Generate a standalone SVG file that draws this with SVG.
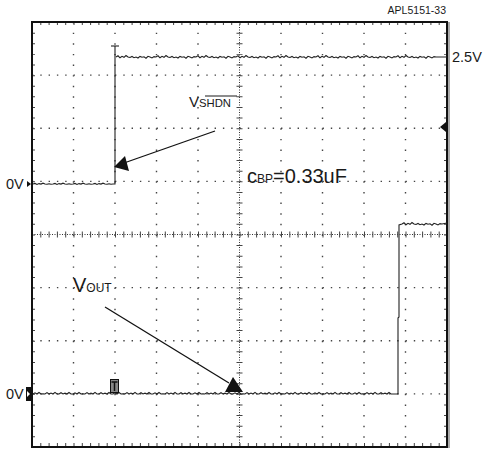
<svg xmlns="http://www.w3.org/2000/svg" width="484" height="454" viewBox="0 0 484 454">
<style>
.t{font-family:"Liberation Sans",Arial,sans-serif;fill:#1a1a1a}
.gv{stroke:#444;stroke-width:1.4;stroke-dasharray:1.4 9.225}
.gh{stroke:#444;stroke-width:1.4;stroke-dasharray:1.4 6.9}
.tr{fill:none;stroke:#222;stroke-width:1.1}
.ar{stroke:#111;stroke-width:1.3}
</style>
<rect width="484" height="454" fill="#fff"/>
<g id="grid">
<g class="gv">
<line x1="73.5" y1="22" x2="73.5" y2="447"/><line x1="115" y1="22" x2="115" y2="447"/>
<line x1="156.5" y1="22" x2="156.5" y2="447"/><line x1="198" y1="22" x2="198" y2="447"/>
<line x1="281" y1="22" x2="281" y2="447"/><line x1="322.5" y1="22" x2="322.5" y2="447"/>
<line x1="364" y1="22" x2="364" y2="447"/><line x1="405.5" y1="22" x2="405.5" y2="447"/>
</g>
<g class="gh">
<line x1="32" y1="75.1" x2="447" y2="75.1"/><line x1="32" y1="128.3" x2="447" y2="128.3"/>
<line x1="32" y1="181.4" x2="447" y2="181.4"/><line x1="32" y1="287.6" x2="447" y2="287.6"/>
<line x1="32" y1="340.8" x2="447" y2="340.8"/><line x1="32" y1="393.9" x2="447" y2="393.9"/>
</g>
<line x1="239.5" y1="22" x2="239.5" y2="447" stroke="#333" stroke-dasharray="1 1.5"/>
<line x1="32" y1="234.5" x2="447" y2="234.5" stroke="#333" stroke-dasharray="1 1.5"/>
<line x1="239.5" y1="22" x2="239.5" y2="447" stroke="#444" stroke-width="6" stroke-dasharray="1 9.625"/>
<line x1="32" y1="234.5" x2="447" y2="234.5" stroke="#444" stroke-width="6" stroke-dasharray="1 7.3"/>
<line x1="33.5" y1="22" x2="33.5" y2="447" stroke="#444" stroke-width="3" stroke-dasharray="1 9.625"/>
<line x1="445.5" y1="22" x2="445.5" y2="447" stroke="#444" stroke-width="3" stroke-dasharray="1 9.625"/>
<line x1="32" y1="23.5" x2="447" y2="23.5" stroke="#444" stroke-width="3" stroke-dasharray="1 7.3"/>
<line x1="32" y1="445" x2="447" y2="445" stroke="#444" stroke-width="4" stroke-dasharray="1 7.3"/>
<line x1="449" y1="22" x2="449" y2="448" stroke="#aaa" stroke-width="2"/>
<rect x="32" y="22" width="415" height="425" fill="none" stroke="#111" stroke-width="2"/>
</g>
<g id="traces">
<path class="tr" d="M33,184 l2,-0.6 2,1 2,-0.8 2,0.5 2,-0.9 2,0.8 2,0.2 2,-0.5 2,0.6 2,-0.3 2,-0.6 2,1 2,-0.8 2,0.5 2,-0.9 2,0.8 2,0.2 2,-0.5 2,0.6 2,-0.3 2,-0.6 2,1 2,-0.8 2,0.5 2,-0.9 2,0.8 2,0.2 2,-0.5 2,0.6 2,-0.3 2,-0.6 2,1 2,-0.8 2,0.5 2,-0.9 2,0.8 2,0.2 2,-0.5 2,0.6 2,-0.3 L115,184 V46"/>
<path class="tr" d="M111,46 H119"/>
<path class="tr" d="M116,57 l2,-1.2 2,2 2,-1.5 2,1 2,-1.8 2,1.5 2,0.5 2,-1 2,1.2 2,-0.7 2,1 2,-1.6 2,0.8 2,-0.4 2,1.4 2,-1.9 2,0.6 2,1 2,-1.3 2,0.4 2,-1.2 2,2 2,-1.5 2,1 2,-1.8 2,1.5 2,0.5 2,-1 2,1.2 2,-0.7 2,1 2,-1.6 2,0.8 2,-0.4 2,1.4 2,-1.9 2,0.6 2,1 2,-1.3 2,0.4 2,-1.2 2,2 2,-1.5 2,1 2,-1.8 2,1.5 2,0.5 2,-1 2,1.2 2,-0.7 2,1 2,-1.6 2,0.8 2,-0.4 2,1.4 2,-1.9 2,0.6 2,1 2,-1.3 2,0.4 2,-1.2 2,2 2,-1.5 2,1 2,-1.8 2,1.5 2,0.5 2,-1 2,1.2 2,-0.7 2,1 2,-1.6 2,0.8 2,-0.4 2,1.4 2,-1.9 2,0.6 2,1 2,-1.3 2,0.4 2,-1.2 2,2 2,-1.5 2,1 2,-1.8 2,1.5 2,0.5 2,-1 2,1.2 2,-0.7 2,1 2,-1.6 2,0.8 2,-0.4 2,1.4 2,-1.9 2,0.6 2,1 2,-1.3 2,0.4 2,-1.2 2,2 2,-1.5 2,1 2,-1.8 2,1.5 2,0.5 2,-1 2,1.2 2,-0.7 2,1 2,-1.6 2,0.8 2,-0.4 2,1.4 2,-1.9 2,0.6 2,1 2,-1.3 2,0.4 2,-1.2 2,2 2,-1.5 2,1 2,-1.8 2,1.5 2,0.5 2,-1 2,1.2 2,-0.7 2,1 2,-1.6 2,0.8 2,-0.4 2,1.4 2,-1.9 2,0.6 2,1 2,-1.3 2,0.4 2,-1.2 2,2 2,-1.5 2,1 2,-1.8 2,1.5 2,0.5 2,-1 2,1.2 2,-0.7 2,1 2,-1.6 2,0.8 2,-0.4 2,1.4 2,-1.9 2,0.6 2,1 2,-1.3 2,0.4 L447,57"/>
<path class="tr" d="M33,394 l2,-1.2 2,1.2 2,-1.5 2,1.5 2,-0.3 2,0.3 2,-1.4 2,1.4 2,-1 2,1 2,-1.6 2,1.6 2,0 2,-1.3 2,1.3 2,-0.8 2,0.8 2,-1.5 2,1.5 2,0 2,-1.2 2,1.2 2,-1.5 2,1.5 2,-0.3 2,0.3 2,-1.4 2,1.4 2,-1 2,1 2,-1.6 2,1.6 2,0 2,-1.3 2,1.3 2,-0.8 2,0.8 2,-1.5 2,1.5 2,0 2,-1.2 2,1.2 2,-1.5 2,1.5 2,-0.3 2,0.3 2,-1.4 2,1.4 2,-1 2,1 2,-1.6 2,1.6 2,0 2,-1.3 2,1.3 2,-0.8 2,0.8 2,-1.5 2,1.5 2,0 2,-1.2 2,1.2 2,-1.5 2,1.5 2,-0.3 2,0.3 2,-1.4 2,1.4 2,-1 2,1 2,-1.6 2,1.6 2,0 2,-1.3 2,1.3 2,-0.8 2,0.8 2,-1.5 2,1.5 2,0 2,-1.2 2,1.2 2,-1.5 2,1.5 2,-0.3 2,0.3 2,-1.4 2,1.4 2,-1 2,1 2,-1.6 2,1.6 2,0 2,-1.3 2,1.3 2,-0.8 2,0.8 2,-1.5 2,1.5 2,0 2,-1.2 2,1.2 2,-1.5 2,1.5 2,-0.3 2,0.3 2,-1.4 2,1.4 2,-1 2,1 2,-1.6 2,1.6 2,0 2,-1.3 2,1.3 2,-0.8 2,0.8 2,-1.5 2,1.5 2,0 2,-1.2 2,1.2 2,-1.5 2,1.5 2,-0.3 2,0.3 2,-1.4 2,1.4 2,-1 2,1 2,-1.6 2,1.6 2,0 2,-1.3 2,1.3 2,-0.8 2,0.8 2,-1.5 2,1.5 2,0 2,-1.2 2,1.2 2,-1.5 2,1.5 2,-0.3 2,0.3 2,-1.4 2,1.4 2,-1 2,1 2,-1.6 2,1.6 2,0 2,-1.3 2,1.3 2,-0.8 2,0.8 2,-1.5 2,1.5 2,0 2,-1.2 2,1.2 2,-1.5 2,1.5 2,-0.3 2,0.3 2,-1.4 2,1.4 2,-1 2,1 2,-1.6 2,1.6 2,0 2,-1.3 2,1.3 2,-0.8 2,0.8 2,-1.5 2,1.5 2,0 L398,394 V318 L399,317 V225 L402,224 l2,-1.2 2,2 2,-1.5 2,1 2,-1.8 2,1.5 2,0.5 2,-1 2,1.2 2,-0.7 2,1 2,-1.6 2,0.8 2,-0.4 2,1.4 2,-1.9 2,0.6 2,1 2,-1.3 2,0.4 L447,223"/>
<rect x="110.5" y="379.5" width="8" height="13" fill="#888" stroke="#111"/>
<path d="M111.5,382 H117.5 M114.5,382 V391" stroke="#111" stroke-width="1.5" fill="none"/>
<polygon points="27,181 31,184 27,187" fill="#111"/>
<rect x="26" y="387" width="5" height="14" fill="#111"/>
<polygon points="27,391 30,394 27,397" fill="#fff"/>
<polygon points="440,127 446,122 446,132" fill="#111"/>
</g>
<g id="connectors">
<line class="ar" x1="215" y1="131" x2="124" y2="163"/>
<polygon points="114,167 125,156 129,171" fill="#111"/>
<line class="ar" x1="105" y1="307" x2="229" y2="383"/>
<polygon points="233,377 225,392 243,392" fill="#111"/>
</g>
<g id="labels">
<text class="t" x="446" y="14" font-size="10.5" text-anchor="end">APL5151-33</text>
<text class="t" x="452" y="62" font-size="14.5">2.5V</text>
<text class="t" x="6" y="189" font-size="14.5">0V</text>
<text class="t" x="6" y="399" font-size="14.5">0V</text>
<g id="vshdn-label">
<text class="t" x="189" y="107" font-size="15">V<tspan font-size="11.3">SHDN</tspan></text>
<line x1="205" y1="96" x2="237" y2="96" stroke="#1a1a1a" stroke-width="1"/>
</g>
<text class="t" x="247" y="183" font-size="20">c<tspan font-size="12">BP</tspan>=0.33uF</text>
<text class="t" x="73" y="292" font-size="20">V<tspan font-size="12">OUT</tspan></text>
</g>
</svg>
